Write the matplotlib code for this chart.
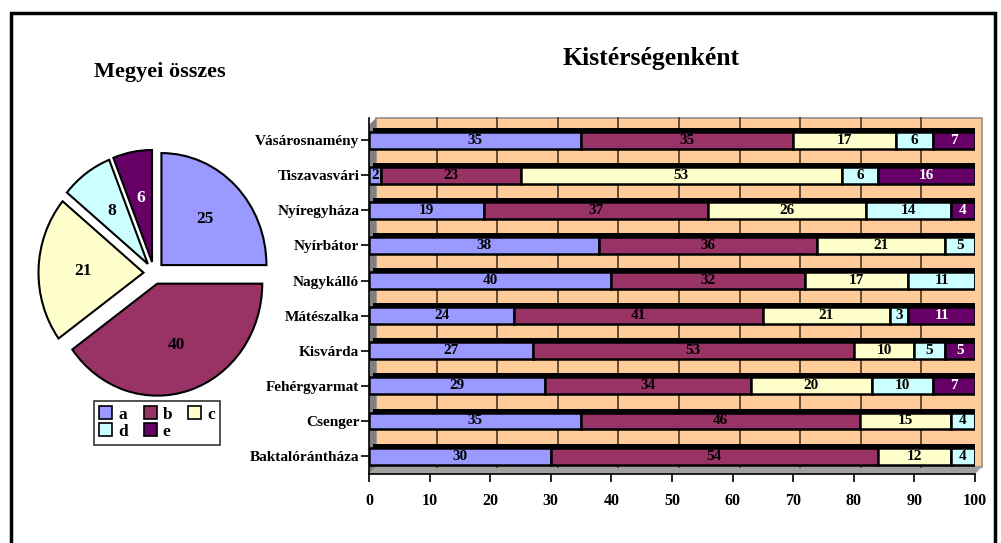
import numpy as np
import matplotlib.pyplot as plt
from matplotlib.patches import Rectangle, Polygon
from matplotlib.transforms import offset_copy

plt.rcParams['font.family'] = ['Liberation Serif', 'DejaVu Serif']
plt.rcParams['font.weight'] = 'bold'

# pie data (county total)
pie_labels = ['a', 'b', 'c', 'd', 'e']
pie_values = [25, 40, 21, 8, 6]
colors = ['#9999FF', '#993366', '#FFFFCC', '#CCFFFF', '#660066']

# per sub-region stacked values (a..e), bottom to top
regions = ['Baktalórántháza', 'Csenger', 'Fehérgyarmat', 'Kisvárda', 'Mátészalka',
           'Nagykálló', 'Nyírbátor', 'Nyíregyháza', 'Tiszavasvári', 'Vásárosnamény']
a = [30, 35, 29, 27, 24, 40, 38, 19, 2, 35]
b = [54, 46, 34, 53, 41, 32, 36, 37, 23, 35]
c = [12, 15, 20, 10, 21, 17, 21, 26, 53, 17]
d = [4, 4, 10, 5, 3, 11, 5, 14, 6, 6]
e = [0, 0, 7, 5, 11, 0, 0, 4, 16, 7]
series = [a, b, c, d, e]

W, H = 1001, 543
fig = plt.figure(figsize=(W / 100, H / 100), dpi=100)

def px_axes(x0, y0, x1, y1):
    # pixel box (top-left origin) -> figure fraction axes
    return fig.add_axes([x0 / W, 1 - y1 / H, (x1 - x0) / W, (y1 - y0) / H])

# outer frame
fig.patches.append(Rectangle((11 / W, -0.01), 984 / W, 1 - 13 / H + 0.01,
                             transform=fig.transFigure, fill=False, lw=2.5,
                             edgecolor='black'))

# ---- pie ----
cx, cy, rx, ry = 154, 273, 105, 112
pax = px_axes(cx - 1.25 * rx, cy - 1.25 * ry, cx + 1.25 * rx, cy + 1.25 * ry)
wedges, _, autotexts = pax.pie(pie_values, colors=colors, startangle=90, counterclock=False,
                               explode=[0.1] * 5, autopct=lambda p: '%d' % round(p),
                               pctdistance=0.58,
                               wedgeprops=dict(edgecolor='black', linewidth=1.5),
                               textprops=dict(fontsize=12.5, fontweight='bold'))
autotexts[4].set_color('white')
pax.set_aspect('auto')
pax.set_xlim(-1.25, 1.25)
pax.set_ylim(-1.25, 1.25)
pax.axis('off')
fig.text(160 / W, 1 - 72 / H, 'Megyei összes', ha='center', va='center', fontsize=16,
         fontweight='bold')

# row-wise legend order a b c / d e
order = [0, 3, 1, 4, 2]
leg = fig.legend([wedges[i] for i in order], [pie_labels[i] for i in order],
                 loc='upper left', bbox_to_anchor=(94 / W, 1 - 401 / H),
                 ncol=3, frameon=True, fancybox=False, edgecolor='black',
                 handlelength=0.75, handleheight=0.75, handletextpad=0.35, columnspacing=0.9,
                 labelspacing=0.05, borderpad=0.3, borderaxespad=0,
                 prop=dict(weight='bold', size=12.5))
leg.get_frame().set_linewidth(1.2)
for h in leg.legend_handles:
    h.set_linewidth(1.2)

# ---- stacked bars ----
ax = px_axes(369, 118, 975, 474)
ax.set_xlim(0, 100)
ax.set_ylim(-0.51, 9.63)
ax.patch.set_visible(False)
dx, dy = 7 / 606, 7 / 356
back = offset_copy(ax.transData, fig=fig, x=7, y=0, units='dots')

ax.add_patch(Rectangle((dx, dy), 1, 1 - dy, transform=ax.transAxes, facecolor='#FFCC99',
                       edgecolor='#909090', lw=1.2, zorder=0, clip_on=False))
ax.add_patch(Polygon([(0, 0), (dx, dy), (dx, 1), (0, 1 - dy)], closed=True,
                     transform=ax.transAxes, facecolor='#808080', edgecolor='none',
                     zorder=0, clip_on=False))
ax.add_patch(Polygon([(0, 0), (1, 0), (1 + dx, dy), (dx, dy)], closed=True,
                     transform=ax.transAxes, facecolor='#A0A0A0', edgecolor='none',
                     zorder=0, clip_on=False))

ticks = np.arange(0, 101, 10)
for t in ticks[1:-1]:
    ax.plot([t, t], [-0.51 + 0.2, 9.63], color='#4a3520', lw=1.2, transform=back, zorder=1,
            clip_on=False)

y = np.arange(len(regions))
left = np.zeros(len(regions))
depth = offset_copy(ax.transData, fig=fig, x=4, y=4, units='dots')
total = np.sum(series, axis=0)
ax.barh(y, total, height=0.48, color='black', transform=depth, zorder=2)
for k, s in enumerate(series):
    s = np.array(s)
    ax.barh(y, s, left=left, height=0.48, color=colors[k], edgecolor='black', lw=1.8,
            zorder=3)
    for yi, v, l in zip(y, s, left):
        if v > 0:
            ax.text(l + v / 2, yi, str(v), ha='center', va='center', fontsize=11,
                    fontweight='bold', color='white' if k == 4 else 'black', zorder=4)
    left += s

ax.set_yticks(y)
ax.set_yticklabels(regions, fontsize=11, fontweight='bold')
ax.set_xticks(ticks)
ax.set_xticklabels([str(t) for t in ticks], fontsize=11.5, fontweight='bold')
ax.tick_params(axis='both', length=6, width=1.2, color='black', pad=8)
ax.tick_params(axis='y', pad=1)
for side in ['top', 'right']:
    ax.spines[side].set_visible(False)
ax.spines['left'].set_linewidth(1.2)
ax.spines['bottom'].set_linewidth(1.2)

fig.text(651 / W, 1 - 58 / H, 'Kistérségenként', ha='center', va='center', fontsize=18.5,
         fontweight='bold')

fig.savefig('out.png', dpi=100)
